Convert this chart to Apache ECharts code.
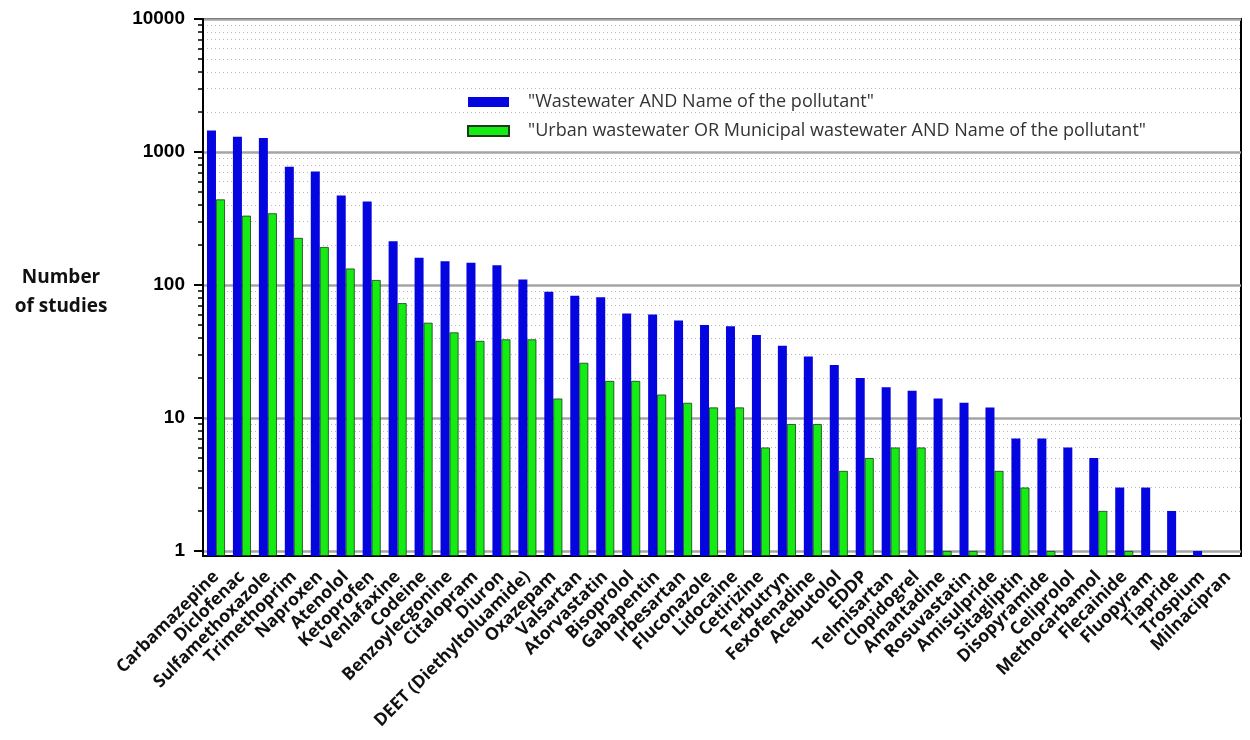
<!DOCTYPE html>
<html>
<head>
<meta charset="utf-8">
<script src="https://cdn.jsdelivr.net/npm/echarts@6/dist/echarts.min.js"></script>
<style>
html,body{margin:0;padding:0;background:#fff;}
#chart{width:1250px;height:740px;}
</style>
</head>
<body>
<div id="chart"></div>
<script>
const categories = ['Carbamazepine','Diclofenac','Sulfamethoxazole','Trimethoprim','Naproxen','Atenolol','Ketoprofen','Venlafaxine','Codeine','Benzoylecgonine','Citalopram','Diuron','DEET (Diethyltoluamide)','Oxazepam','Valsartan','Atorvastatin','Bisoprolol','Gabapentin','Irbesartan','Fluconazole','Lidocaine','Cetirizine','Terbutryn','Fexofenadine','Acebutolol','EDDP','Telmisartan','Clopidogrel','Amantadine','Rosuvastatin','Amisulpride','Sitagliptin','Disopyramide','Celiprolol','Methocarbamol','Flecainide','Fluopyram','Tiapride','Trospium','Milnacipran'];
const wastewater = [1450,1300,1275,775,715,470,425,213,160,151,147,141,110,89,83,81,61,60,54,50,49,42,35,29,25,20,17,16,14,13,12,7,7,6,5,3,3,2,1,null];
const urbanMunicipal = [440,332,346,226,193,133,109,73,52,44,38,39,39,14,26,19,19,15,13,12,12,6,9,9,4,5,6,6,1,1,4,3,1,null,2,1,null,null,null,null];
const seriesNames = ['"Wastewater AND Name of the pollutant"','"Urban wastewater OR Municipal wastewater AND Name of the pollutant"'];
const majorTicks = [1,10,100,1000,10000];
const minorTicks = [2,3,4,5,6,7,8,9,20,30,40,50,60,70,80,90,200,300,400,500,600,700,800,900,2000,3000,4000,5000,6000,7000,8000,9000];
const yName = 'Number\nof studies';

// Logarithmic value axis: the axis starts slightly below 1, bars rise from the axis floor.
const yMin = 0.917, yMax = 10000;
const shift = -Math.log10(yMin);
const toAxis = v => (v == null ? null : Math.log10(v) + shift);
const fromAxis = a => Math.pow(10, a - shift);

const chart = echarts.init(document.getElementById('chart'));
chart.setOption({
  animation: false,
  backgroundColor: '#fff',
  grid: {left: 203, right: 9, top: 19, bottom: 184, show: true, borderColor: '#000', borderWidth: 2, backgroundColor: 'transparent'},
  graphic: [{
    type: 'text', x: 61, y: 292.5,
    style: {text: yName, fontFamily: 'Open Sans', fontWeight: 'bold', fontSize: 19, fill: '#111',
      align: 'center', verticalAlign: 'middle', lineHeight: 29}
  }],
  legend: {
    orient: 'vertical', left: 462, top: 88, itemWidth: 41, itemHeight: 10, itemGap: 11, icon: 'rect',
    textStyle: {fontFamily: 'Open Sans', fontSize: 18, color: '#333', padding: [0,0,0,14]},
    data: seriesNames
  },
  xAxis: {
    type: 'category', data: categories,
    axisLine: {lineStyle: {color: '#000', width: 2}},
    axisTick: {alignWithLabel: true, length: 7, lineStyle: {color: '#000', width: 2}},
    axisLabel: {interval: 0, rotate: 45, margin: 18, fontFamily: 'Open Sans', fontWeight: 'bold', fontSize: 17.5, color: '#111'}
  },
  yAxis: [{
    type: 'value', min: 0, max: toAxis(yMax),
    axisLine: {show: true, lineStyle: {color: '#000', width: 2}},
    axisTick: {show: true, length: 9, customValues: majorTicks.map(toAxis), lineStyle: {color: '#000', width: 2}},
    axisLabel: {customValues: majorTicks.map(toAxis), margin: 18, fontFamily: 'Liberation Sans', fontWeight: 'bold', fontSize: 19, color: '#000',
      formatter: v => String(Math.round(fromAxis(v)))},
    splitLine: {show: true, lineStyle: {color: '#a5a5a5', width: 2.5}}
  },{
    type: 'value', min: 0, max: toAxis(yMax), position: 'left',
    axisLine: {show: false},
    axisTick: {show: true, length: 5, customValues: minorTicks.map(toAxis), lineStyle: {color: '#000', width: 1.5}},
    axisLabel: {show: false},
    splitLine: {show: true, lineStyle: {color: '#b8b8b8', width: 1, type: [1,3]}}
  }],
  series: [{
    name: seriesNames[0], type: 'bar', data: wastewater.map(toAxis), barWidth: 9, barGap: '0%',
    itemStyle: {color: '#0505e0'}
  },{
    name: seriesNames[1], type: 'bar', data: urbanMunicipal.map(toAxis), barWidth: 9,
    itemStyle: {color: '#14ec14', borderColor: '#1a3a1a', borderWidth: 0.8}
  }]
});
</script>
</body>
</html>
